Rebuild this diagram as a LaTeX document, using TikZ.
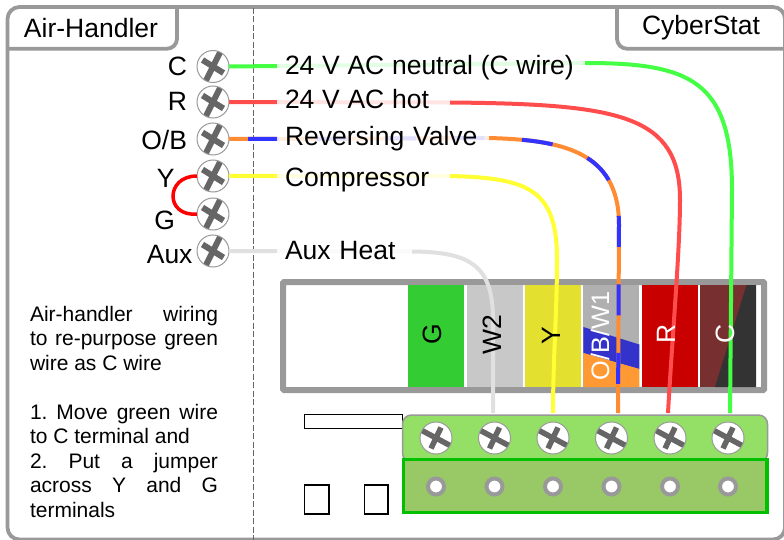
\documentclass[tikz,border=0pt]{standalone}
\usepackage{fontspec}
\setmainfont{Liberation Sans}
\definecolor{frameg}{HTML}{999999}
\definecolor{crossg}{HTML}{666666}
\definecolor{wgreen}{HTML}{44FF44}
\definecolor{wred}{HTML}{FF4D4D}
\definecolor{wblue}{HTML}{3333FF}
\definecolor{worange}{HTML}{FF8C33}
\definecolor{wyellow}{HTML}{FFFF33}
\definecolor{wgray}{HTML}{E0E0E0}
\newcommand{\jline}[1]{\makebox[188pt][s]{#1}}
\newcommand{\tightsp}{\spaceskip=7.7pt\relax}
\tikzset{
  x=1pt,y=-1pt,outer sep=0pt,
  big/.style={font=\fontsize{26.5}{30}\selectfont},
  small/.style={font=\fontsize{21}{24.5}\selectfont\frenchspacing},
  wire/.style={line width=4pt},
  crossbase/.style={draw=frameg,line width=1pt,fill=white,circle,minimum size=32pt,inner sep=0pt},
  screwa/.style={crossbase,path picture={
    \draw[crossg,line width=6pt] ([shift={(-7.5,15)}]path picture bounding box.center) -- ([shift={(7.5,-15)}]path picture bounding box.center);
    \draw[crossg,line width=6pt] ([shift={(-10.5,-6.5)}]path picture bounding box.center) -- ([shift={(10.5,6.5)}]path picture bounding box.center);}},
  screwb/.style={crossbase,path picture={
    \draw[crossg,line width=5.5pt] ([shift={(-5,10.5)}]path picture bounding box.center) -- ([shift={(5,-10.5)}]path picture bounding box.center);
    \draw[crossg,line width=5.5pt] ([shift={(-15,-8)}]path picture bounding box.center) -- ([shift={(15,8)}]path picture bounding box.center);}},
  hole/.style={circle,draw=frameg,line width=4pt,fill=white,minimum size=16pt,inner sep=0pt},
  wlabel/.style={big,anchor=base west,inner xsep=0pt,inner ysep=0pt,fill=white,fill opacity=.85,text opacity=1,align=left,text width=#1},
  slab/.style={big,anchor=base east,inner sep=0pt},
  band/.style={draw=none,inner sep=0pt,minimum width=56pt,minimum height=102pt,anchor=north west},
  bandtext/.style={big,rotate=90,inner sep=0pt},
  tab/.style={big,inner sep=0pt},
  outline/.style={draw=black,line width=1.5pt,fill=white},
}
\begin{document}
\begin{tikzpicture}
\useasboundingbox (0,0) rectangle (784,540);
% frame
\draw[frameg,line width=3.8pt,rounded corners=12pt,fill=white] (7.5,7) rectangle (785,539.5);
\draw[frameg,line width=3.8pt,rounded corners=10pt] (7.5,48.7) -- (177,48.7) -- (177,7);
\draw[frameg,line width=3.8pt,rounded corners=10pt] (617,7) -- (617,48.7) -- (790,48.7);
\node[tab] (ahlabel) at (91,28) {Air-Handler};
\node[tab] (cslabel) at (701,28) {CyberStat};
\coordinate (dashtop) at (253.5,8);
\coordinate (dashbot) at (253.5,540);
\draw[crossg,line width=1.8pt,dash pattern=on 6pt off 2.5pt] (dashtop) -- (dashbot);
% thermostat strip
\node[draw=frameg,line width=6pt,rounded corners=1pt,fill=white,minimum width=481pt,minimum height=108pt,anchor=north west,inner sep=0pt] (strip) at (283,282) {};
\node[band,fill={rgb,255:red,51;green,204;blue,51}] (bG) at (408,285) {};
\node[band,fill={rgb,255:red,200;green,200;blue,200}] (bW) at (466.5,285) {};
\node[band,fill={rgb,255:red,227;green,224;blue,48}] (bY) at (525,285) {};
\node[band,fill={rgb,255:red,176;green,176;blue,176}] (bO) at (583.3,285) {};
\node[band,fill={rgb,255:red,200;green,0;blue,0}] (bR) at (641.7,285) {};
\node[band,fill={rgb,255:red,119;green,47;blue,47}] (bC) at (700,285) {};
\fill[color={rgb,255:red,51;green,51;blue,204}] (583.3,327) -- (639.3,344.5) -- (639.3,369) -- (583.3,353) -- cycle;
\fill[color={rgb,255:red,255;green,153;blue,51}] (583.3,353) -- (639.3,369) -- (639.3,387) -- (583.3,387) -- cycle;
\fill[color={rgb,255:red,51;green,51;blue,51}] (746.5,285) -- (756,285) -- (756,387) -- (715,387) -- cycle;
% small outlines
\node[outline,minimum width=98pt,minimum height=14pt,anchor=north west,inner sep=0pt] (slot) at (304.5,414.5) {};
\node[outline,minimum width=24.5pt,minimum height=29pt,anchor=north west,inner sep=0pt] (sq1) at (304.5,485) {};
\node[outline,minimum width=23.5pt,minimum height=29pt,anchor=north west,inner sep=0pt] (sq2) at (364.5,485) {};
% left screws
\node[screwa] (sC) at (213,66.5) {};
\node[screwa] (sR) at (213,102) {};
\node[screwa] (sO) at (213,139) {};
\node[screwa] (sY) at (213,176) {};
\node[screwa] (sG) at (213,214) {};
\node[screwa] (sA) at (213,251) {};
\node[slab] (lC) at (187,75.5) {C};
\node[slab] (lR) at (187,110.5) {R};
\node[slab] (lO) at (187,149.5) {O/B};
\node[slab] (lY) at (174.5,188) {Y};
\node[slab] (lG) at (175,229.5) {G};
\node[slab] (lA) at (192.5,263) {Aux};
\draw[red,line width=3.5pt] (sY.west) .. controls (165,176) and (165,217) .. (sG.west);
% wire waypoints
\coordinate (gA) at (585,63); \coordinate (gB) at (732,190); \coordinate (gE) at (730,413);
\coordinate (rA) at (450,102.5); \coordinate (rB) at (680,200); \coordinate (rE) at (668,413);
\coordinate (oM) at (277,139); \coordinate (oA) at (489,138); \coordinate (oB) at (619,225); \coordinate (oE) at (618,413);
\coordinate (yA) at (450,176); \coordinate (yB) at (557,260); \coordinate (yE) at (553,413);
\coordinate (aA) at (412,251.5); \coordinate (aB) at (493,320); \coordinate (aE) at (493,413);
% aux wire
\draw[wire,wgray] (sA.east) -- (aA) .. controls (470,252) and (493,265) .. (aB) -- (aE);
% yellow
\draw[wire,wyellow] (sY.east) -- (yA) .. controls (530,178) and (557,190) .. (yB) .. controls (557,310) and (553,360) .. (yE);
% reversing valve
\draw[wire,worange] (sO.east) -- (oM) -- (oA) .. controls (560,140) and (619,150) .. (oB) -- (oE);
\draw[wire,wblue,dash pattern=on 31pt off 37.5pt,dash phase=49.5pt] (sO.east) -- (oM) -- (oA) .. controls (560,140) and (619,150) .. (oB) -- (oE);
% red
\draw[wire,wred] (sR.east) -- (rA) .. controls (620,104) and (680,115) .. (rB) .. controls (680,250) and (672,340) .. (rE);
% green
\draw[wire,wgreen] (sC.east) -- (gA) .. controls (690,63) and (732,80) .. (gB) -- (gE);
% band labels
\node[bandtext] (tG) at (432,334.5) {G};
\node[bandtext] (tW) at (492,335) {W2};
\node[bandtext] (tY) at (551.3,336) {Y};
\node[bandtext,text=white,font=\fontsize{25.3}{30}\selectfont] (tO) at (600,336) {O/B/W1};
\node[bandtext,text=white] (tR) at (666,333.5) {R};
\node[bandtext,text=white] (tC) at (725,334) {C};
% wire labels
\node[wlabel=308pt] (wC) at (277,75) {\tightsp\hspace*{8pt}24 V AC neutral (C wire)};
\node[wlabel=173pt] (wR) at (277,109) {\tightsp\hspace*{8pt}24 V AC hot};
\node[wlabel=212pt] (wO) at (277,146) {\hspace*{8pt}Reversing Valve};
\node[wlabel=173pt] (wY) at (277,186.5) {\hspace*{8pt}Compressor};
\node[wlabel=135pt] (wA) at (277,259.5) {\hspace*{8pt}Aux Heat};
% terminal block
\draw[frameg,line width=1.5pt,fill={rgb,255:red,148;green,224;blue,102},rounded corners=9pt] (402.5,462) -- (402.5,415) -- (767.5,415) -- (767.5,462) -- cycle;
\node[draw={rgb,255:red,0;green,192;blue,0},line width=3.5pt,fill={rgb,255:red,153;green,200;blue,102},minimum width=363.5pt,minimum height=53pt,anchor=north west,inner sep=0pt] (lower) at (403.5,459.5) {};
\foreach \n/\x in {1/436,2/494.5,3/553,4/611.5,5/670,6/728}{
  \node[screwb] (b\n) at (\x,438) {};
  \node[hole] (h\n) at (\x,486.5) {};
}
% text
\node[small,anchor=north west,inner sep=0pt,align=left] (note) at (30,306) {\jline{Air-handler\ \ \ \ wiring}\\ \jline{to re-purpose green}\\ wire as C wire\\[24.5pt] \jline{1. Move green wire}\\ to C terminal and\\ \jline{2. Put a jumper}\\ \jline{across Y and G}\\ terminals};
\end{tikzpicture}
\end{document}
